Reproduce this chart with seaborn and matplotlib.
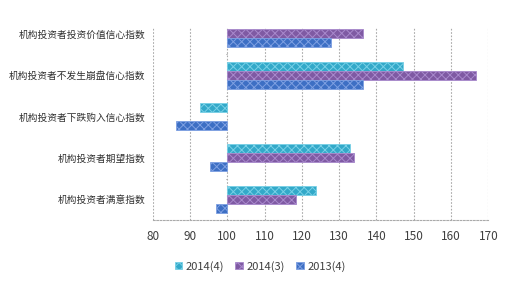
import numpy as np
import pandas as pd
import matplotlib
matplotlib.use("Agg")
import matplotlib.pyplot as plt
from matplotlib.patches import Patch
import seaborn as sns

categories = ["机构投资者投资价值信心指数", "机构投资者不发生崩盘信心指数",
              "机构投资者下跌购入信心指数", "机构投资者期望指数", "机构投资者满意指数"]
series_names = ["2014(4)", "2014(3)", "2013(4)"]
s2014_4 = [np.nan, 147.2, 92.7, 133.0, 123.8]
s2014_3 = [136.4, 166.6, np.nan, 134.0, 118.3]
s2013_4 = [127.8, 136.4, 86.3, 95.4, 97.1]
base = 100
xticks = [80, 90, 100, 110, 120, 130, 140, 150, 160, 170]

sns.set_theme(style="white")
plt.rcParams['font.family'] = ['Noto Sans CJK SC', 'DejaVu Sans']
plt.rcParams['hatch.linewidth'] = 0.7

rows = []
for name, vals in zip(series_names, [s2014_4, s2014_3, s2013_4]):
    for c, v in zip(categories, vals):
        rows.append({"cat": c, "series": name, "delta": v - base})
df = pd.DataFrame(rows)

palette = {"2014(4)": "#33a9c9", "2014(3)": "#7f5aa3", "2013(4)": "#3d6fc4"}
edges = {"2014(4)": "#78d0e6", "2014(3)": "#a889cc", "2013(4)": "#7ea0e2"}

fig = plt.figure(figsize=(5.12, 2.86), dpi=100)
ax = fig.add_axes([0.298, 0.231, 0.656, 0.670])

sns.barplot(data=df, y="cat", x="delta", hue="series", order=categories,
            hue_order=series_names, palette=palette, orient="h", width=0.65,
            left=base, ax=ax, errorbar=None, saturation=1, legend=False)

for cont, name in zip(ax.containers, series_names):
    for b in cont:
        b.set_edgecolor(edges[name])
        b.set_linewidth(0.6)
        b.set_hatch("xxxx")

ax.set_xlim(80, 170)
ax.set_ylim(4.5, -0.13)
ax.set_xticks(xticks)
ax.set_xticklabels([str(t) for t in xticks], fontsize=8.5, color="#404040")
ax.tick_params(axis="y", labelsize=7, labelcolor="#303030", length=0, pad=5)
ax.tick_params(axis="x", length=3, color="#999999", direction="out", pad=4)
ax.set_xlabel("")
ax.set_ylabel("")
ax.grid(axis="x", color="#aaaaaa", linestyle=(0, (1.5, 1.5)), linewidth=0.8)
ax.set_axisbelow(True)
for s in ["top", "right", "left"]:
    ax.spines[s].set_visible(False)
ax.spines["bottom"].set_color("#aaaaaa")
ax.spines["bottom"].set_linestyle((0, (1.5, 1.5)))
ax.spines["bottom"].set_linewidth(0.8)

# category ticks on the 100 axis
for yb in [0.5, 1.5, 2.5, 3.5]:
    ax.plot([base - 0.4, base], [yb, yb], color="#aaaaaa", lw=0.6)

handles = [Patch(facecolor=palette[n], edgecolor=edges[n], hatch="xxxx", linewidth=0.6)
           for n in series_names]
leg = ax.legend(handles, series_names, loc="upper center", bbox_to_anchor=(0.32, -0.16),
                ncol=3, frameon=False, fontsize=8, handlelength=0.7, handleheight=0.7,
                handletextpad=0.3, columnspacing=1.0)
for t in leg.get_texts():
    t.set_color("#404040")

fig.savefig("out.png", dpi=100)
